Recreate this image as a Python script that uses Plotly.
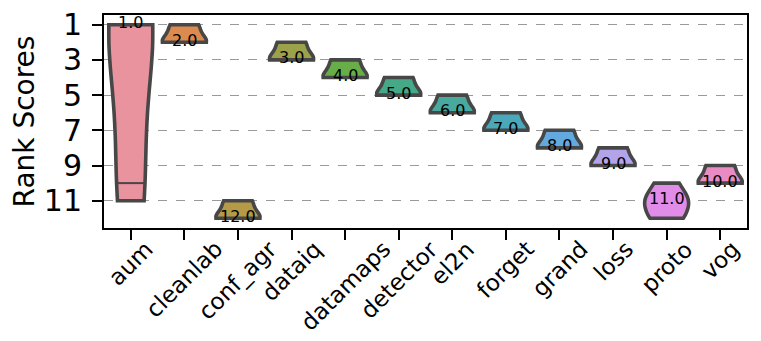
import numpy as np
import plotly.graph_objects as go

# rank of each method over the runs
methods = ["aum", "cleanlab", "conf_agr", "dataiq", "datamaps", "detector",
           "el2n", "forget", "grand", "loss", "proto", "vog"]

aum_ranks = [1, 1, 1, 1, 1, 10, 10, 11]
cleanlab_ranks = [1, 1, 1, 2, 2, 2, 2, 2]
conf_agr_ranks = [11, 11, 11, 12, 12, 12, 12, 12]
dataiq_ranks = [2, 2, 2, 3, 3, 3, 3, 3]
datamaps_ranks = [3, 3, 3, 4, 4, 4, 4, 4]
detector_ranks = [4, 4, 4, 5, 5, 5, 5, 5]
el2n_ranks = [5, 5, 5, 6, 6, 6, 6, 6]
forget_ranks = [6, 6, 6, 7, 7, 7, 7, 7]
grand_ranks = [7, 7, 7, 8, 8, 8, 8, 8]
loss_ranks = [8, 8, 8, 9, 9, 9, 9, 9]
proto_ranks = [10, 10, 11, 11, 11, 11, 12, 12, 12]
vog_ranks = [9, 9, 9, 10, 10, 10, 10, 10]

all_ranks = [aum_ranks, cleanlab_ranks, conf_agr_ranks, dataiq_ranks,
             datamaps_ranks, detector_ranks, el2n_ranks, forget_ranks,
             grand_ranks, loss_ranks, proto_ranks, vog_ranks]

colors = ["#e9939f", "#dd8a4e", "#b59a47", "#9ca24a", "#67ad48", "#45a886",
          "#48a99f", "#49a8ba", "#62a9e0", "#b3a4ea", "#e08ce8", "#ea8bc3"]

ytick_vals = [1, 3, 5, 7, 9, 11]

VW = 0.82
OUTLINE = "#474747"
FONT = "DejaVu Sans"


def kde_halfwidth(vals, bw, at):
    vals = np.asarray(vals, dtype=float)
    grid = np.linspace(vals.min(), vals.max(), 200)
    dens = lambda t: np.exp(-0.5 * ((t[:, None] - vals[None, :]) / bw) ** 2).sum(axis=1)
    return VW / 2 * dens(np.array([at]))[0] / dens(grid).max()


fig = go.Figure()

for i, (name, vals, col) in enumerate(zip(methods, all_ranks, colors)):
    spread = max(vals) - min(vals)
    bw = 4.0 if spread > 5 else (0.6 if spread > 1 else 0.45)
    fig.add_trace(go.Violin(
        x=[name] * len(vals), y=vals, name=name,
        fillcolor=col, line=dict(color=OUTLINE, width=3.6),
        bandwidth=bw, spanmode="hard", points=False,
        width=VW, scalemode="width", opacity=1,
        hoveron="violins", showlegend=False,
    ))
    # inner quartile line (only visible when it falls inside the body)
    q3 = float(np.percentile(vals, 75))
    if min(vals) < q3 < max(vals) and spread > 5:
        hw = kde_halfwidth(vals, bw, q3)
        fig.add_shape(type="line", xref="x", yref="y",
                      x0=i - hw, x1=i + hw, y0=q3, y1=q3,
                      line=dict(color=OUTLINE, width=2), layer="above")
    med = float(np.median(vals))
    fig.add_annotation(x=name, y=med, text=f"{med:.1f}", showarrow=False,
                       font=dict(size=16, color="black"), yshift=2)
    # rotated tick label, centred under the tick like matplotlib
    fig.add_annotation(x=name, y=0, xref="x", yref="paper", text=name,
                       textangle=-45, showarrow=False,
                       xanchor="center", yanchor="top", yshift=-5,
                       font=dict(size=23, color="black", family=FONT))

# the page body has an 8px margin, so the figure is shifted by that much
fig.update_layout(
    width=753, height=333,
    margin=dict(l=96, r=14, t=7, b=113),
    paper_bgcolor="white", plot_bgcolor="white",
    font=dict(family=FONT, color="black"),
    violinmode="overlay",
    xaxis=dict(
        categoryorder="array", categoryarray=methods,
        range=[-0.5, 11.5], automargin=False,
        showline=True, linecolor="black", linewidth=2, mirror=True,
        ticks="outside", ticklen=10, tickwidth=2, tickcolor="black",
        showticklabels=False,
        showgrid=False, zeroline=False,
    ),
    yaxis=dict(
        range=[12.55, 0.45], automargin=False,
        tickvals=ytick_vals,
        showline=True, linecolor="black", linewidth=2, mirror=True,
        ticks="outside", ticklen=10, tickwidth=2, tickcolor="black",
        tickfont=dict(size=30), ticklabelstandoff=4,
        ticklabeloverflow="allow",
        showgrid=True, gridcolor="#9a9a9a", gridwidth=1, griddash="dash",
        zeroline=False,
        title=dict(text="Rank Scores", font=dict(size=28), standoff=14),
    ),
)

fig.write_html("out.html")
